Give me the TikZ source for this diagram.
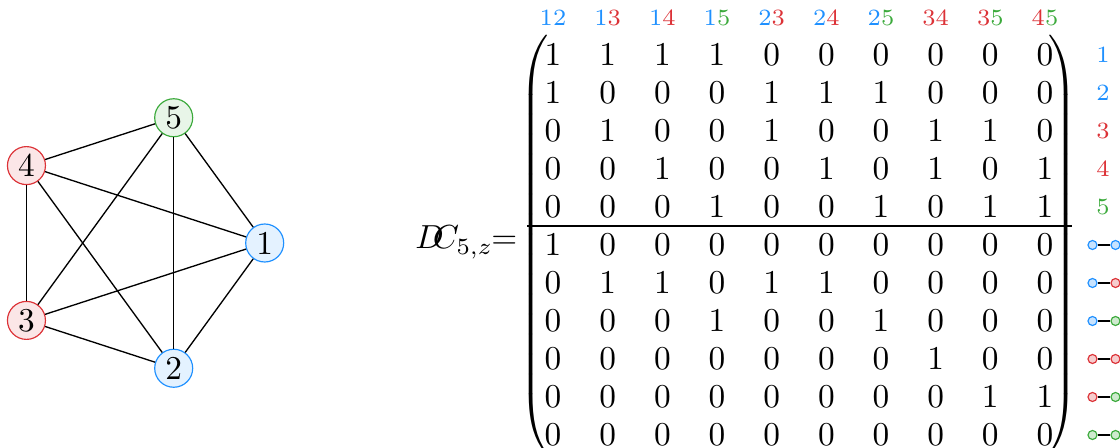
\documentclass[tikz,border=0pt]{standalone}
\usepackage{amsmath}
\usepackage{tikz}
\usetikzlibrary{positioning,matrix,calc}
\definecolor{vblue}{RGB}{30,144,255}
\definecolor{vred}{RGB}{220,50,55}
\definecolor{vgreen}{RGB}{60,170,60}
\colorlet{vc1}{vblue}
\colorlet{vc2}{vblue}
\colorlet{vc3}{vred}
\colorlet{vc4}{vred}
\colorlet{vc5}{vgreen}

\begin{document}
\begin{tikzpicture}[
  x=0.3pt, y=0.3pt,
  vtx/.style={circle, draw, line width=0.35pt, minimum size=11.4pt, inner sep=0pt},
  vblu/.style={vtx, draw=vblue, fill=vblue!12},
  vrd/.style={vtx, draw=vred, fill=vred!12},
  vgrn/.style={vtx, draw=vgreen, fill=vgreen!12},
  edge/.style={draw=black, line width=0.4pt},
  lbl/.style={font=\scriptsize, inner sep=0pt},
  dot/.style={circle, draw, line width=0.35pt, minimum size=2.7pt, inner sep=0pt},
  every left delimiter/.style={xshift=4pt},
  every right delimiter/.style={xshift=-4.3pt}
]
\useasboundingbox (0,0) rectangle (1120,448);
\clip (0,0) rectangle (1120,448);

% the complete graph on five vertices
\coordinate (ctr) at (133,205);
\node[vblu] (v1) at ($(ctr)+(0:131.7)$) {1};
\node[vblu] (v2) at ($(ctr)+(-72:131.7)$) {2};
\node[vrd]  (v3) at ($(ctr)+(-144:131.7)$) {3};
\node[vrd]  (v4) at ($(ctr)+(144:131.7)$) {4};
\node[vgrn] (v5) at ($(ctr)+(72:131.7)$) {5};
\foreach \a/\b in {1/2,1/3,1/4,1/5,2/3,2/4,2/5,3/4,3/5,4/5}
  \draw[edge] (v\a) -- (v\b);

% incidence matrix
\matrix[matrix of math nodes, inner sep=0pt, row sep=0pt, column sep=8.4pt,
  nodes={minimum width=8pt, minimum height=11.4pt, inner sep=0pt},
  left delimiter=(, right delimiter=)] (dc) at (799,203) {
1 & 1 & 1 & 1 & 0 & 0 & 0 & 0 & 0 & 0 \\
1 & 0 & 0 & 0 & 1 & 1 & 1 & 0 & 0 & 0 \\
0 & 1 & 0 & 0 & 1 & 0 & 0 & 1 & 1 & 0 \\
0 & 0 & 1 & 0 & 0 & 1 & 0 & 1 & 0 & 1 \\
0 & 0 & 0 & 1 & 0 & 0 & 1 & 0 & 1 & 1 \\
1 & 0 & 0 & 0 & 0 & 0 & 0 & 0 & 0 & 0 \\
0 & 1 & 1 & 0 & 1 & 1 & 0 & 0 & 0 & 0 \\
0 & 0 & 0 & 1 & 0 & 0 & 1 & 0 & 0 & 0 \\
0 & 0 & 0 & 0 & 0 & 0 & 0 & 1 & 0 & 0 \\
0 & 0 & 0 & 0 & 0 & 0 & 0 & 0 & 1 & 1 \\
0 & 0 & 0 & 0 & 0 & 0 & 0 & 0 & 0 & 0 \\
};
\node[anchor=base east, inner sep=0pt] (dclbl) at (518,199) {$D\!\!C_{5,z}\!\!=$};

% rule between vertex rows and edge rows
\coordinate (ml) at ($(dc-5-1)!.5!(dc-6-1)$);
\coordinate (mr) at ($(dc-5-10)!.5!(dc-6-10)$);
\draw[line width=0.4pt] ([xshift=-7.8pt]ml) -- ([xshift=8.1pt]mr);

% column labels
\foreach \i/\j [count=\k] in {1/2,1/3,1/4,1/5,2/3,2/4,2/5,3/4,3/5,4/5}
  \node[lbl] (c\k) at ([yshift=11.1pt]dc-1-\k) {\textcolor{vc\i}{\i}\textcolor{vc\j}{\j}};

% row labels
\foreach \r in {1,...,5}
  \node[lbl, text=vc\r] (r\r) at ([xshift=17.4pt]dc-\r-10) {\r};
\foreach \r/\a/\b in {6/1/1,7/1/3,8/1/5,9/3/3,10/3/5,11/5/5}{
  \node[dot, draw=vc\a, fill=vc\a!25] (p\r) at ([xshift=14.25pt]dc-\r-10) {};
  \node[dot, draw=vc\b, fill=vc\b!25] (q\r) at ([xshift=21.15pt]dc-\r-10) {};
  \draw[line width=0.4pt] (p\r) -- (q\r);
}
\end{tikzpicture}
\end{document}
